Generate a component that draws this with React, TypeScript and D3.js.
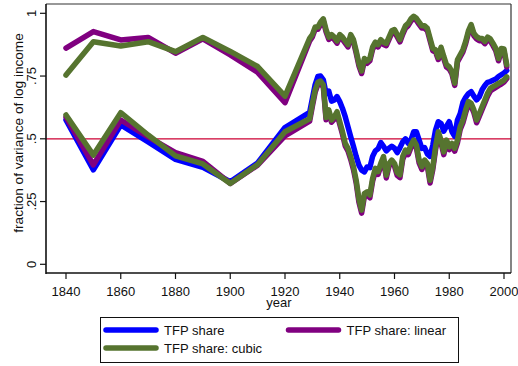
import React from "react";
import * as d3 from "d3";

const years = [
  1840, 1850, 1860, 1870, 1880, 1890, 1900, 1910, 1920,
  1929, 1930, 1931, 1932, 1933, 1934, 1935, 1936, 1937, 1938, 1939,
  1940, 1941, 1942, 1943, 1944, 1945, 1946, 1947, 1948, 1949,
  1950, 1951, 1952, 1953, 1954, 1955, 1956, 1957, 1958, 1959,
  1960, 1961, 1962, 1963, 1964, 1965, 1966, 1967, 1968, 1969,
  1970, 1971, 1972, 1973, 1974, 1975, 1976, 1977, 1978, 1979,
  1980, 1981, 1982, 1983, 1984, 1985, 1986, 1987, 1988, 1989,
  1990, 1991, 1992, 1993, 1994, 1995, 1996, 1997, 1998, 1999,
  2000, 2001,
];

// TFP share (lower blue)
const tfpShare = [
  0.575, 0.376, 0.555, 0.488, 0.418, 0.386, 0.329, 0.404, 0.545,
  0.605, 0.660, 0.715, 0.748, 0.750, 0.735, 0.680, 0.690, 0.650, 0.655, 0.668,
  0.648, 0.621, 0.588, 0.548, 0.508, 0.470, 0.430, 0.395, 0.375, 0.368,
  0.388, 0.385, 0.430, 0.452, 0.460, 0.485, 0.470, 0.452, 0.462, 0.470,
  0.462, 0.445, 0.465, 0.488, 0.500, 0.482, 0.495, 0.528, 0.528, 0.495,
  0.462, 0.465, 0.440, 0.430, 0.475, 0.535, 0.568, 0.561, 0.530, 0.550,
  0.568, 0.528, 0.510, 0.575, 0.600, 0.645, 0.665, 0.680, 0.688, 0.670,
  0.655, 0.668, 0.695, 0.712, 0.725, 0.728, 0.733, 0.738, 0.748, 0.755,
  0.762, 0.772,
];

// TFP share: linear (lower purple)
const tfpLinear = [
  0.586, 0.396, 0.575, 0.508, 0.445, 0.410, 0.322, 0.395, 0.512,
  0.570, 0.630, 0.685, 0.716, 0.722, 0.706, 0.576, 0.605, 0.566, 0.578, 0.598,
  0.558, 0.518, 0.472, 0.452, 0.418, 0.378, 0.324, 0.248, 0.204, 0.270,
  0.278, 0.265, 0.331, 0.371, 0.358, 0.391, 0.418, 0.344, 0.391, 0.404,
  0.391, 0.354, 0.345, 0.418, 0.444, 0.437, 0.464, 0.484, 0.464, 0.404,
  0.378, 0.404, 0.391, 0.324, 0.378, 0.457, 0.517, 0.484, 0.437, 0.484,
  0.457, 0.471, 0.451, 0.484, 0.537, 0.564, 0.604, 0.637, 0.630, 0.604,
  0.564, 0.590, 0.617, 0.643, 0.670, 0.690, 0.698, 0.705, 0.712, 0.718,
  0.726, 0.740,
];

// TFP share: cubic (lower green)
const tfpCubic = [
  0.595, 0.435, 0.604, 0.515, 0.432, 0.400, 0.322, 0.398, 0.528,
  0.580, 0.640, 0.694, 0.725, 0.730, 0.715, 0.585, 0.615, 0.575, 0.588, 0.608,
  0.568, 0.528, 0.482, 0.462, 0.429, 0.389, 0.335, 0.260, 0.216, 0.282,
  0.289, 0.276, 0.342, 0.382, 0.369, 0.402, 0.429, 0.355, 0.402, 0.415,
  0.402, 0.365, 0.356, 0.429, 0.455, 0.448, 0.475, 0.495, 0.475, 0.415,
  0.389, 0.415, 0.402, 0.335, 0.389, 0.468, 0.528, 0.495, 0.448, 0.495,
  0.468, 0.482, 0.462, 0.495, 0.548, 0.575, 0.615, 0.648, 0.641, 0.615,
  0.575, 0.601, 0.628, 0.654, 0.681, 0.701, 0.708, 0.714, 0.721, 0.727,
  0.734, 0.747,
];

// upper purple
const linearHigh = [
  0.861, 0.927, 0.894, 0.904, 0.841, 0.898, 0.834, 0.765, 0.644,
  0.890, 0.906, 0.936, 0.936, 0.956, 0.970, 0.926, 0.896, 0.906, 0.896, 0.881,
  0.906, 0.896, 0.881, 0.866, 0.906, 0.886, 0.841, 0.791, 0.760, 0.811,
  0.801, 0.811, 0.856, 0.876, 0.866, 0.886, 0.876, 0.871, 0.896, 0.921,
  0.926, 0.906, 0.886, 0.916, 0.941, 0.951, 0.969, 0.980, 0.972, 0.956,
  0.941, 0.941, 0.931, 0.891, 0.851, 0.846, 0.816, 0.856, 0.819, 0.786,
  0.778, 0.758, 0.713, 0.806, 0.826, 0.846, 0.879, 0.921, 0.946, 0.911,
  0.898, 0.891, 0.891, 0.879, 0.896, 0.889, 0.871, 0.851, 0.811, 0.851,
  0.849, 0.786,
];

// upper green
const cubicHigh = [
  0.754, 0.887, 0.870, 0.887, 0.847, 0.904, 0.848, 0.788, 0.670,
  0.900, 0.915, 0.945, 0.945, 0.965, 0.978, 0.935, 0.905, 0.915, 0.905, 0.890,
  0.915, 0.905, 0.890, 0.875, 0.915, 0.895, 0.850, 0.800, 0.770, 0.820,
  0.810, 0.820, 0.865, 0.885, 0.875, 0.895, 0.885, 0.880, 0.905, 0.930,
  0.935, 0.915, 0.895, 0.925, 0.950, 0.960, 0.978, 0.988, 0.980, 0.965,
  0.950, 0.950, 0.940, 0.900, 0.860, 0.855, 0.825, 0.865, 0.828, 0.795,
  0.787, 0.767, 0.722, 0.815, 0.835, 0.855, 0.888, 0.930, 0.955, 0.920,
  0.907, 0.900, 0.900, 0.888, 0.905, 0.898, 0.880, 0.860, 0.820, 0.860,
  0.858, 0.795,
];

const xTicks = [1840, 1860, 1880, 1900, 1920, 1940, 1960, 1980, 2000];
const yTicks = [0, 0.25, 0.5, 0.75, 1];
const yTickLabels = ["0", ".25", ".5", ".75", "1"];

const BLUE = "#0000ff";
const PURPLE = "#800080";
const GREEN = "#56742f";
const RED = "#cc0033";
const FONT = "'Liberation Sans', Arial, Helvetica, sans-serif";

export default function App() {
  const W = 518;
  const H = 366;
  const left = 46, right = 511, top = 4, bottom = 273;
  const x = d3.scaleLinear().domain([1840, 2000]).range([66, 504]);
  const y = d3.scaleLinear().domain([0, 1]).range([264.3, 13.3]);
  const gen = d3
    .line<number>()
    .x((_, i) => x(years[i]))
    .y((d) => y(d));

  const series = [
    { vals: tfpShare, color: BLUE },
    { vals: linearHigh, color: PURPLE },
    { vals: tfpLinear, color: PURPLE },
    { vals: cubicHigh, color: GREEN },
    { vals: tfpCubic, color: GREEN },
  ];

  const legend = [
    { label: "TFP share", color: BLUE, lx: 106, ly: 330 },
    { label: "TFP share: linear", color: PURPLE, lx: 288.5, ly: 330 },
    { label: "TFP share: cubic", color: GREEN, lx: 106, ly: 348 },
  ];

  return (
    <svg
      width={W}
      height={H}
      style={{ position: "absolute", left: 0, top: 0, background: "#fff" }}
      fontFamily={FONT}
    >
      <rect x={0} y={0} width={W} height={H} fill="#fff" />
      {/* reference line */}
      <line x1={left} x2={right} y1={y(0.5)} y2={y(0.5)} stroke={RED} strokeWidth={1.3} />
      {series.map((s, i) => (
        <path
          key={i}
          d={gen(s.vals) || ""}
          fill="none"
          stroke={s.color}
          strokeWidth={5.5}
          strokeLinejoin="round"
          strokeLinecap="round"
        />
      ))}
      {/* frame */}
      <line x1={left} x2={right} y1={top} y2={top} stroke="#333" strokeWidth={1.2} />
      <line x1={right} x2={right} y1={top} y2={bottom} stroke="#333" strokeWidth={1.2} />
      <line x1={left} x2={left} y1={top} y2={bottom + 1} stroke="#111" strokeWidth={1.6} />
      <line x1={left} x2={right} y1={bottom} y2={bottom} stroke="#111" strokeWidth={1.6} />
      {/* y ticks */}
      {yTicks.map((t, i) => (
        <g key={t}>
          <line x1={40} x2={left} y1={y(t)} y2={y(t)} stroke="#111" strokeWidth={1.2} />
          <text
            transform={`translate(36,${y(t)}) rotate(-90)`}
            textAnchor="middle"
            fontSize={13}
            fill="#111"
          >
            {yTickLabels[i]}
          </text>
        </g>
      ))}
      {/* x ticks */}
      {xTicks.map((t) => (
        <g key={t}>
          <line x1={x(t)} x2={x(t)} y1={bottom} y2={279} stroke="#111" strokeWidth={1.2} />
          <text x={x(t)} y={296} textAnchor="middle" fontSize={13} fill="#111">
            {t}
          </text>
        </g>
      ))}
      <text x={279} y={307} textAnchor="middle" fontSize={13} fill="#111">
        year
      </text>
      <text
        transform={`translate(22.5,133) rotate(-90)`}
        textAnchor="middle"
        fontSize={13.6}
        fill="#111"
      >
        fraction of variance of log income
      </text>
      {/* legend */}
      <rect x={100.5} y={317.5} width={358} height={45} fill="#fff" stroke="#111" strokeWidth={1} />
      {legend.map((l) => (
        <g key={l.label}>
          <line
            x1={l.lx}
            x2={l.lx + 50}
            y1={l.ly}
            y2={l.ly}
            stroke={l.color}
            strokeWidth={5.5}
            strokeLinecap="round"
          />
          <text x={l.lx + 58} y={l.ly + 4.5} fontSize={13} fill="#111">
            {l.label}
          </text>
        </g>
      ))}
    </svg>
  );
}
